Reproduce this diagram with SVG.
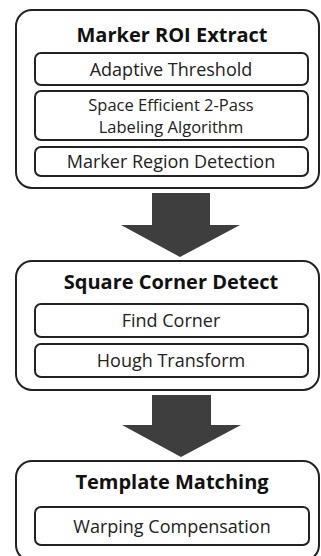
<svg xmlns="http://www.w3.org/2000/svg" width="321" height="556" viewBox="0 0 321 556">
<style>
.outer{fill:#fff;stroke:#222;stroke-width:2}
.inner{fill:#fff;stroke:#222;stroke-width:2}
.title{font-family:"Open Sans","Noto Sans",sans-serif;font-weight:bold;font-size:20px;fill:#111;text-anchor:middle}
.lbl{font-family:"Open Sans","Noto Sans",sans-serif;font-size:18px;fill:#222;text-anchor:middle}
.lbl2{font-size:16.5px}
.arrow{fill:#3e3e3e}
</style>
<rect width="321" height="556" fill="#fff"/>
<g id="node-marker-roi">
<rect class="outer" x="16" y="10" width="303" height="178" rx="16"/>
<text class="title" x="172" y="42">Marker ROI Extract</text>
<g id="node-adaptive"><rect class="inner" x="35" y="53" width="273" height="32" rx="6"/><text class="lbl" x="171" y="76">Adaptive Threshold</text></g>
<g id="node-labeling"><rect class="inner" x="35" y="91" width="273" height="49" rx="6"/><text class="lbl lbl2" x="171" y="110.5">Space Efficient 2-Pass</text><text class="lbl lbl2" x="171" y="133">Labeling Algorithm</text></g>
<g id="node-region"><rect class="inner" x="35" y="147" width="273" height="29" rx="6"/><text class="lbl" x="171" y="168">Marker Region Detection</text></g>
</g>
<g id="node-square-corner">
<rect class="outer" x="16" y="261" width="303" height="129" rx="16"/>
<text class="title" x="171" y="289">Square Corner Detect</text>
<g id="node-find-corner"><rect class="inner" x="35" y="304" width="273" height="33" rx="6"/><text class="lbl" x="171" y="327">Find Corner</text></g>
<g id="node-hough"><rect class="inner" x="35" y="344" width="273" height="33" rx="6"/><text class="lbl" x="171" y="367">Hough Transform</text></g>
</g>
<g id="node-template">
<rect class="outer" x="16" y="461" width="303" height="100" rx="16"/>
<text class="title" x="172" y="489">Template Matching</text>
<g id="node-warping"><rect class="inner" x="35" y="507" width="274" height="38" rx="6"/><text class="lbl" x="172" y="533">Warping Compensation</text></g>
</g>
<g id="connectors">
<polygon class="arrow" points="152,193 210,193 210,225 240,225 180,257 121,225 152,225"/>
<polygon class="arrow" points="152,395 211,395 211,425 241,425 181,457 122,425 152,425"/>
</g>
</svg>
